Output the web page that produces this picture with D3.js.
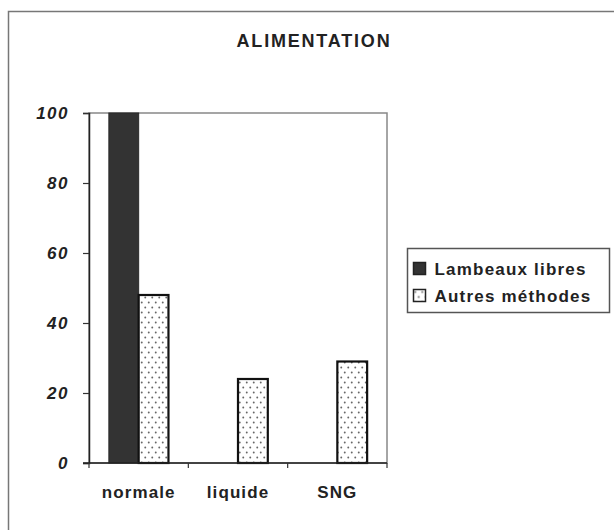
<!DOCTYPE html>
<html>
<head>
<meta charset="utf-8">
<script src="https://cdn.jsdelivr.net/npm/d3@7"></script>
<style>
  html, body { margin: 0; padding: 0; background: #fff; }
  svg { display: block; font-family: "Liberation Sans", Arial, sans-serif; }
</style>
</head>
<body>
<svg id="chart" width="614" height="530"></svg>
<script>
// Feeding modes and the share (%) of each reconstruction group
const categories = ["normale", "liquide", "SNG"];
const seriesNames = ["Lambeaux libres", "Autres méthodes"];
const lambeauxLibres = [100, 0, 0];
const autresMethodes = [48, 24, 29];
const yTicks = [0, 20, 40, 60, 80, 100];
const chartTitle = "ALIMENTATION";

const seriesValues = [lambeauxLibres, autresMethodes];

const svg = d3.select("#chart");
const defs = svg.append("defs");

// Dotted fill used for the second series
const pat = defs.append("pattern")
  .attr("id", "dots")
  .attr("patternUnits", "userSpaceOnUse")
  .attr("width", 7).attr("height", 10);
pat.append("rect").attr("width", 7).attr("height", 10).attr("fill", "#fff");
pat.append("circle").attr("cx", 1.75).attr("cy", 2.5).attr("r", 0.95).attr("fill", "#666");
pat.append("circle").attr("cx", 5.25).attr("cy", 7.5).attr("r", 0.95).attr("fill", "#666");

const fills = ["#333333", "url(#dots)"];

// Outer frame (runs off the right and bottom edges)
svg.append("rect")
  .attr("x", 8.5).attr("y", 11.5)
  .attr("width", 640).attr("height", 560)
  .attr("fill", "none").attr("stroke", "#777").attr("stroke-width", 1.5);

// Title
svg.append("text")
  .attr("x", 314).attr("y", 47)
  .attr("text-anchor", "middle")
  .attr("font-size", 18).attr("font-weight", "bold")
  .attr("letter-spacing", 1.8)
  .attr("fill", "#222")
  .text(chartTitle);

const plot = { left: 89, right: 387, top: 113, bottom: 463 };

const y = d3.scaleLinear().domain([0, 100]).range([plot.bottom, plot.top]);
const x0 = d3.scaleBand().domain(categories).range([plot.left, plot.right]);
const bw = x0.bandwidth();
const x1 = d3.scaleBand().domain(d3.range(seriesNames.length))
  .range([bw * 0.2, bw * 0.8]);

// Plot area border (top and right in grey)
svg.append("rect")
  .attr("x", plot.left).attr("y", plot.top)
  .attr("width", plot.right - plot.left).attr("height", plot.bottom - plot.top)
  .attr("fill", "none").attr("stroke", "#888").attr("stroke-width", 1.5);

// Bars
const groups = svg.append("g").selectAll("g")
  .data(seriesValues)
  .join("g");

groups.each(function (vals, si) {
  d3.select(this).selectAll("rect")
    .data(vals.map((v, ci) => ({ v, c: categories[ci] })).filter(d => d.v > 0))
    .join("rect")
    .attr("x", d => x0(d.c) + x1(si))
    .attr("y", d => y(d.v))
    .attr("width", x1.bandwidth())
    .attr("height", d => y(0) - y(d.v))
    .attr("fill", fills[si])
    .attr("stroke", si === 0 ? "#2a2a2a" : "#111")
    .attr("stroke-width", si === 0 ? 1 : 2.2);
});

// Y axis
const yAxis = svg.append("g")
  .attr("transform", `translate(${plot.left},0)`)
  .call(d3.axisLeft(y).tickValues(yTicks).tickSize(6).tickPadding(14));
yAxis.select(".domain").attr("stroke", "#222").attr("stroke-width", 1.5);
yAxis.selectAll(".tick line").attr("stroke", "#333").attr("stroke-width", 1.2);
yAxis.selectAll(".tick text")
  .attr("font-size", 17).attr("font-weight", "bold").attr("font-style", "italic")
  .attr("letter-spacing", 1.5)
  .attr("fill", "#222")
  .attr("font-family", "'Liberation Sans', Arial, sans-serif");

// X axis: ticks on category boundaries
const xAxis = svg.append("g")
  .attr("transform", `translate(0,${plot.bottom})`);
xAxis.append("line")
  .attr("x1", plot.left - 6).attr("x2", plot.right)
  .attr("stroke", "#222").attr("stroke-width", 1.5);
const boundaries = categories.map(c => x0(c)).concat([x0(categories[categories.length - 1]) + bw]);
xAxis.selectAll("line.tk")
  .data(boundaries)
  .join("line").attr("class", "tk")
  .attr("x1", d => d).attr("x2", d => d)
  .attr("y1", 0).attr("y2", 5)
  .attr("stroke", "#333").attr("stroke-width", 1.2);
xAxis.selectAll("text")
  .data(categories)
  .join("text")
  .attr("x", d => x0(d) + bw / 2)
  .attr("y", 35)
  .attr("text-anchor", "middle")
  .attr("font-size", 17).attr("font-weight", "bold")
  .attr("letter-spacing", 1.1)
  .attr("fill", "#222")
  .text(d => d);

// Legend
const lg = svg.append("g").attr("transform", "translate(407.5,248.5)");
lg.append("rect")
  .attr("width", 202).attr("height", 64)
  .attr("fill", "#fff").attr("stroke", "#555").attr("stroke-width", 1.5);
const items = lg.selectAll("g.item")
  .data(seriesNames)
  .join("g").attr("class", "item")
  .attr("transform", (d, i) => `translate(6,${14 + i * 27})`);
items.append("rect")
  .attr("width", 12).attr("height", 12)
  .attr("fill", (d, i) => fills[i])
  .attr("stroke", "#222").attr("stroke-width", 1.5);
items.append("text")
  .attr("x", 21).attr("y", 12)
  .attr("font-size", 17).attr("font-weight", "bold")
  .attr("letter-spacing", 1.2)
  .attr("fill", "#222")
  .text(d => d);
</script>
</body>
</html>
